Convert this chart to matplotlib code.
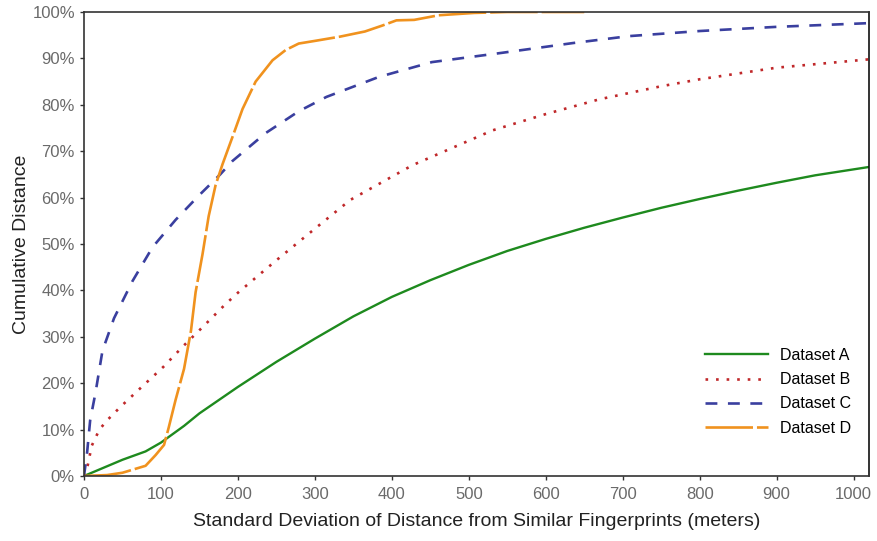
import matplotlib.pyplot as plt
from matplotlib.ticker import FuncFormatter, MultipleLocator

plt.rcParams['font.family'] = ['Liberation Sans', 'DejaVu Sans']

# values (x in meters, y in percent)
a_x = [0, 50, 80, 100, 130, 150, 200, 250, 300, 350, 400, 450, 500, 550, 600,
       650, 700, 750, 800, 850, 900, 950, 1020]
a_y = [0, 3.5, 5.3, 7.2, 10.8, 13.5, 19.2, 24.6, 29.6, 34.4, 38.6, 42.2, 45.5,
       48.5, 51.1, 53.5, 55.7, 57.8, 59.7, 61.5, 63.2, 64.8, 66.6]

b_x = [0, 5, 10, 20, 30, 48, 75, 103, 129, 156, 183, 200, 250, 300, 346, 427,
       531, 600, 670, 750, 800, 900, 1020]
b_y = [0, 2.4, 6.5, 10, 12, 15, 19.2, 23.5, 28, 32.4, 36.9, 39.5, 46.5, 53.3,
       59.5, 67, 74.5, 78, 81.2, 84, 85.5, 88, 89.8]

c_x = [0, 4, 8, 15, 24, 39, 63, 89, 119, 149, 177, 193, 236, 279, 315, 383,
       452, 543, 635, 708, 800, 900, 1020]
c_y = [0, 5, 12, 18, 27, 34, 42, 49.3, 55.2, 60.4, 65, 67.9, 73.9, 78.6, 81.7,
       86, 89.2, 91.2, 93.3, 94.8, 95.9, 96.8, 97.6]

d_x = [0, 30, 50, 80, 93, 104, 110, 119, 130, 139, 145, 154, 162, 171, 180,
       193, 206, 223, 245, 262, 279, 301, 333, 365, 388, 406, 429, 461, 507,
       550, 650]
d_y = [0, 0.2, 0.7, 2.2, 4.5, 6.7, 10.4, 16.4, 23.1, 31.3, 39.6, 47.8, 56,
       62.7, 67.2, 73.1, 79.1, 85, 89.6, 91.8, 93.2, 93.8, 94.7, 95.8, 97.1,
       98.2, 98.3, 99.3, 99.8, 100, 100]

fig = plt.figure(figsize=(8.77, 5.41), dpi=100)
ax = fig.add_axes([84 / 877, 65 / 541, 785 / 877, 464 / 541])

ax.plot(a_x, a_y, color='#1e8a1e', lw=1.7, label='Dataset A')
ax.plot(b_x, b_y, color='#c0282a', lw=1.9, linestyle=(0, (1, 3.0)), label='Dataset B')
ax.plot(c_x, c_y, color='#3a3f9f', lw=1.9, linestyle=(0, (4.5, 4.0)), label='Dataset C')
ax.plot(d_x, d_y, color='#f0921e', lw=1.9, linestyle=(0, (18, 1.5)), label='Dataset D')

ax.set_xlim(0, 1020)
ax.set_ylim(0, 100)
ax.xaxis.set_major_locator(MultipleLocator(100))
ax.yaxis.set_major_locator(MultipleLocator(10))
ax.yaxis.set_major_formatter(FuncFormatter(lambda v, p: f'{v:.0f}%'))

for s in ax.spines.values():
    s.set_color('#333333')
    s.set_linewidth(1.2)
ax.spines['right'].set_color('#111111')
ax.tick_params(axis='both', colors='#333333', labelcolor='#6a6a6a',
               labelsize=12, length=3, width=1, direction='out')
ax.tick_params(axis='x', pad=5)

ax.set_xlabel('Standard Deviation of Distance from Similar Fingerprints (meters)',
              fontsize=14, color='#222222', labelpad=8)
ax.set_ylabel('Cumulative Distance', fontsize=14, color='#222222', labelpad=2)

ax.legend(loc='lower right', frameon=False, fontsize=11.5, handlelength=4.0,
          handletextpad=0.7, labelspacing=0.58, bbox_to_anchor=(0.995, 0.056))

fig.savefig('out.png', dpi=100)
